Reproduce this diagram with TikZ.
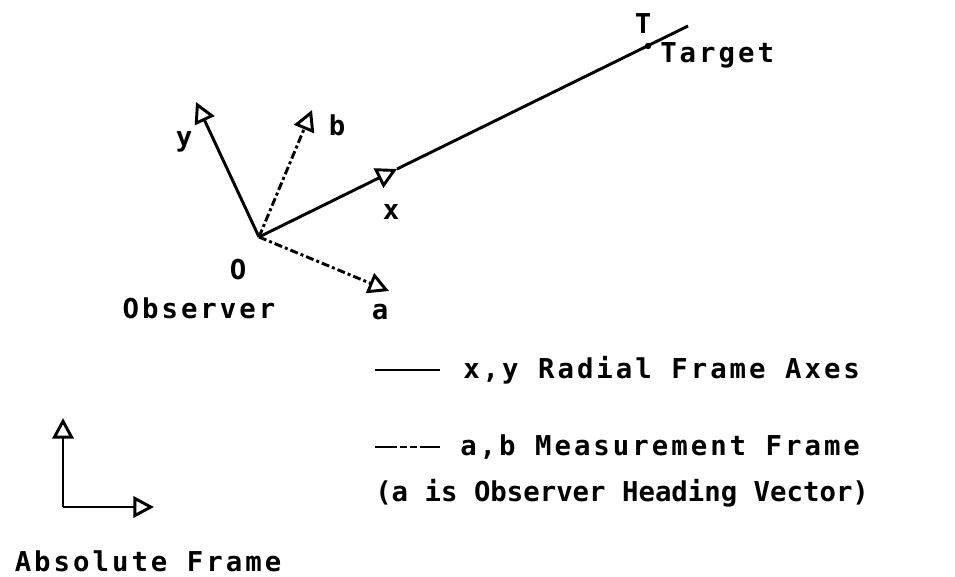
\documentclass[tikz,border=0pt]{standalone}
\usepackage{fontspec}
\newfontfamily\plotfont{DejaVu Sans Mono}[LetterSpace=11]
\newfontfamily\plotfontnarrow{DejaVu Sans Mono}[LetterSpace=0]
\usetikzlibrary{arrows.meta}
\begin{document}
\begin{tikzpicture}[x=0.75pt,y=-0.75pt,
  lbl/.style={font=\plotfont\bfseries\fontsize{20.5}{24}\selectfont, inner sep=0pt},
  lblnarrow/.style={font=\plotfontnarrow\bfseries\fontsize{20.5}{24}\selectfont, inner sep=0pt},
  axis/.style={line width=2.2pt, -{Triangle[open,length=15.5pt,width=16pt,line width=2.2pt]}},
  meas/.style={axis, dash pattern=on 6pt off 2.25pt on 2.25pt off 2.25pt},
  plain/.style={line width=2.2pt},
  legdash/.style={line width=2.2pt, dash pattern=on 16.5pt off 2.25pt on 5.25pt off 2.25pt on 5.25pt off 2.25pt on 15pt}]
\useasboundingbox (0,0) rectangle (955,576);
% origin and tips
\coordinate (O) at (259,237);
\coordinate (ytip) at (196,102);
\coordinate (btip) at (312,110);
\coordinate (xtip) at (397,169);
\coordinate (atip) at (389,291);
\coordinate (tend) at (688,26);
\coordinate (tdot) at (648,46);
% axes
\draw[axis] (O) -- (ytip);
\draw[meas] (O) -- (btip);
\draw[meas] (O) -- (atip);
\draw[axis] (O) -- (xtip);
\draw[plain] (xtip) -- (tend);
\fill (tdot) circle (2.4pt);
% labels
\node[lbl] (ylab) at (184,142) {y};
\node[lbl] (blab) at (337,125) {b};
\node[lbl] (xlab) at (391,212) {x};
\node[lbl] (olab) at (238,270) {O};
\node[lbl, anchor=base] (obs) at (199,318) {Observer};
\node[lbl] (alab) at (380,312) {a};
\node[lbl] (tlab) at (643,24) {T};
\node[lbl, anchor=base west] (target) at (660,62) {Target};
% legend
\coordinate (l1a) at (375,370);
\coordinate (l1b) at (440,370);
\coordinate (l2a) at (375,447);
\coordinate (l2b) at (440,447);
\draw[plain] (l1a) -- (l1b);
\draw[legdash] (l2a) -- (l2b);
\node[lbl, anchor=base west] (leg1) at (463,378) {x,y Radial Frame Axes};
\node[lbl, anchor=base west] (leg2) at (460,455) {a,b Measurement Frame};
\node[lblnarrow, anchor=base west] (leg3) at (375,501) {(a is Observer Heading Vector)};
% absolute frame
\coordinate (c) at (63,507);
\coordinate (up) at (63,418);
\coordinate (rt) at (154,507);
\draw[axis] (c) -- (up);
\draw[axis] (c) -- (rt);
\node[lbl, anchor=base] (abs) at (148,571) {Absolute Frame};
\end{tikzpicture}
\end{document}
